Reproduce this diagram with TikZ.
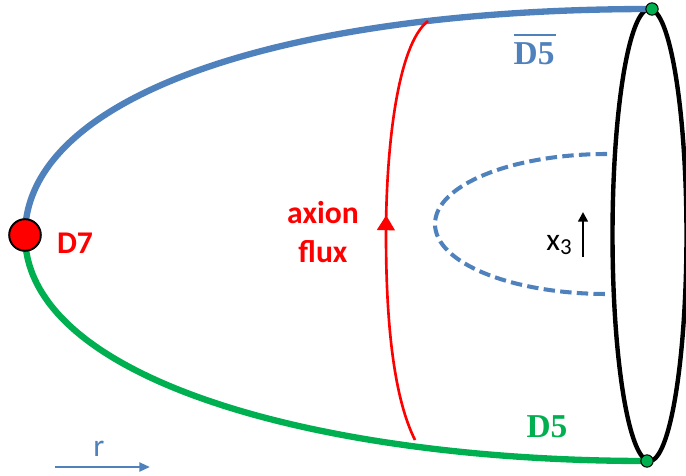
\documentclass[tikz,border=0pt]{standalone}
\usepackage{fontspec}
\usetikzlibrary{arrows.meta,decorations.markings}
\newfontfamily\sanslabel{Carlito}
\newfontfamily\serifbrane{Liberation Serif}
\definecolor{braneblue}{RGB}{79,129,189}
\definecolor{branegreen}{RGB}{0,176,80}

\begin{document}
\begin{tikzpicture}[x=0.02cm,y=-0.02cm,
  brane/.style={line width=3.6pt},
  endpt/.style={circle,draw=black,fill=branegreen,line width=0.6pt,inner sep=0pt,minimum size=7pt},
  flux/.style={red,line width=1.5pt,postaction={decorate},
    decoration={markings,mark=at position 0.53 with {\arrow{Triangle[width=10pt,length=8.5pt]}}}},
  branelab/.style={font=\serifbrane\bfseries\fontsize{19}{22}\selectfont},
  sanslab/.style={font=\sanslabel\fontsize{18}{22}\selectfont}]
\useasboundingbox (0,0) rectangle (686,476);

\coordinate (tip) at (25,235);
\coordinate (top) at (652,9);
\coordinate (bot) at (647,461);

% the cut at the far end
\draw[line width=2.5pt] (649.5,235) ellipse [x radius=0.74cm, y radius=4.52cm];

% the two branes
\draw[brane,braneblue] (tip) .. controls (25,98) and (276,9) .. (top);
\draw[brane,branegreen] (tip) .. controls (25,380) and (320,461) .. (bot);

% flux line
\draw[flux] (415,440) .. controls (395,400) and (386,330) .. (386,235)
      .. controls (386,150) and (397,45) .. (428,21);

% inner dashed loop
\draw[braneblue,line width=2.3pt,dash pattern=on 6.5pt off 3pt]
  (607,154) .. controls (512,154) and (435,185) .. (435,224)
  .. controls (435,263) and (512,294) .. (607,294);

\node[endpt] (topdot) at (top) {};
\node[endpt] (botdot) at (bot) {};
\node[circle,draw=black,fill=red,line width=1.1pt,minimum size=18pt,inner sep=0pt] (d7) at (tip) {};

\node[sanslab,font=\sanslabel\bfseries\fontsize{18}{22}\selectfont,text=red] (d7lab) at (75,243) {D7};
\node[sanslab,font=\sanslabel\bfseries\fontsize{18}{22}\selectfont,text=red,align=center] (fluxlab) at (323,232) {axion\\flux};
\node[branelab,text=braneblue] (d5bar) at (535,49) {\vbox{\hrule height 1.1pt\kern 3.8pt\hbox{D5\kern1pt}}};
\node[branelab,text=branegreen] (d5) at (547,427) {D5};

% directions
\coordinate (xa) at (583,257);
\coordinate (xb) at (583,212);
\draw[-{Triangle[width=5.5pt,length=5.5pt]},line width=1.4pt] (xa) -- (xb);
\node[sanslab] (x3) at (559,245) {x{\fontsize{13}{13}\selectfont\raisebox{-0.35ex}{3}}};

\coordinate (ra) at (55,467);
\coordinate (rb) at (150,467);
\draw[-{Triangle[width=5pt,length=6pt]},line width=1.4pt,braneblue] (ra) -- (rb);
\node[sanslab,text=braneblue] (r) at (99,449) {r};
\end{tikzpicture}
\end{document}
